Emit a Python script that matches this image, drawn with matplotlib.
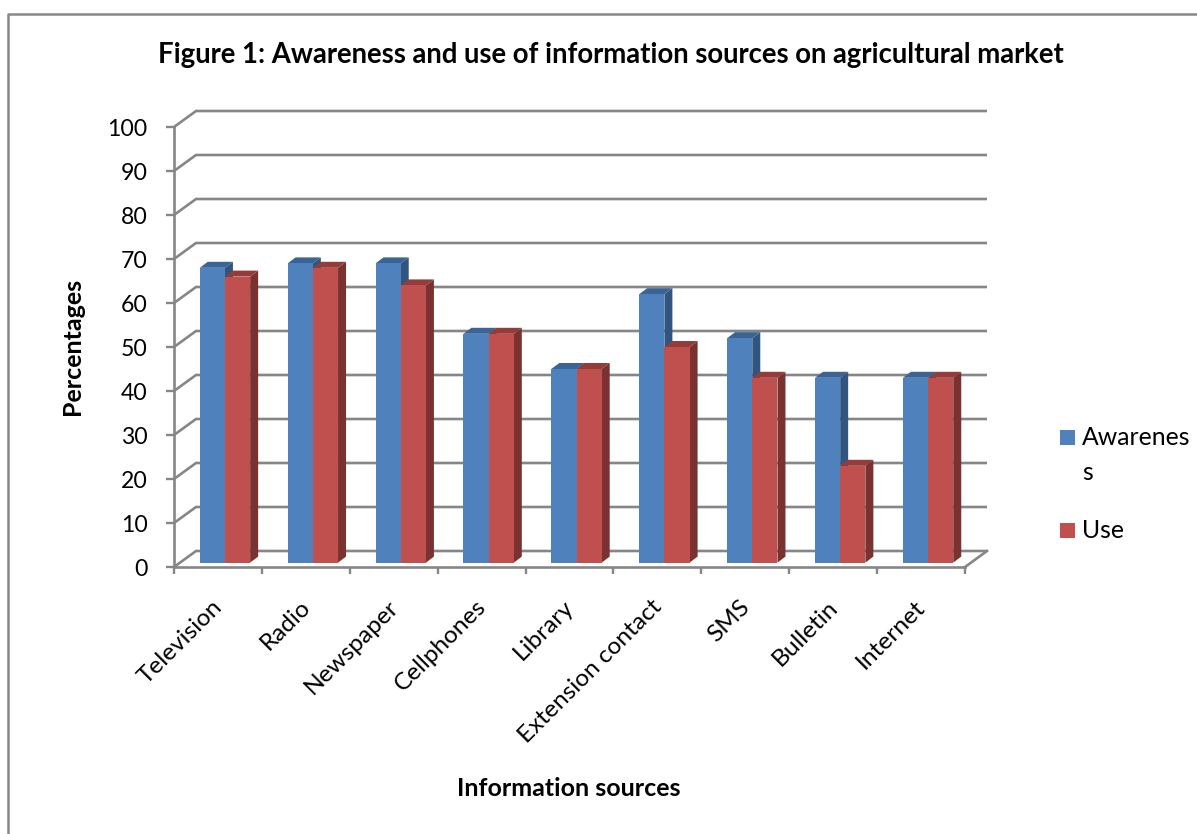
import matplotlib
matplotlib.use("Agg")
import matplotlib.pyplot as plt
from matplotlib.lines import Line2D
from matplotlib.patches import Rectangle

plt.rcParams['font.family'] = ['Lato', 'DejaVu Sans']

categories = ["Television", "Radio", "Newspaper", "Cellphones", "Library",
              "Extension contact", "SMS", "Bulletin", "Internet"]
awareness = [67, 68, 68, 52, 44, 61, 51, 42, 42]
use = [65, 67, 63, 52, 44, 49, 42, 22, 42]
y_ticks = list(range(0, 101, 10))

W, H = 1197, 834
L, R, T, B = 174, 965, 127, 567
GRAY = '#868686'
fig = plt.figure(figsize=(W / 100, H / 100), dpi=100, facecolor='white')
ax = fig.add_axes([L / W, 1 - B / H, (R - L) / W, (B - T) / H])
ax.set_xlim(0, len(categories))
ax.set_ylim(0, 100)
ax.patch.set_alpha(0)

px = len(categories) / (R - L)
py = 100 / (B - T)

# back wall + floor
wx, wy = 22 * px, 16 * py
for v in y_ticks:
    ax.plot([0, wx, len(categories) + wx], [v, v + wy, v + wy], color=GRAY, lw=1.9,
            clip_on=False, zorder=1, solid_capstyle='butt', solid_joinstyle='miter')
ax.plot([len(categories), len(categories) + wx], [0, wy], color=GRAY, lw=1.9,
        clip_on=False, zorder=1)

# 3-D bars
bw = 25.2 * px
ox, oy = 7 * px, 4.4 * py
dx, dy = 8 * px, 6 * py


def bar3d(x0, v, front, top, side, z):
    y0 = oy
    y1 = oy + v
    x1 = x0 + bw
    ax.fill([x1, x1 + dx, x1 + dx, x1], [y0, y0 + dy, y1 + dy, y1], color=side, lw=0, zorder=z, clip_on=False)
    ax.fill([x0, x0 + dx, x1 + dx, x1], [y1, y1 + dy, y1 + dy, y1], color=top, lw=0, zorder=z, clip_on=False)
    ax.bar(x0, v, width=bw, bottom=y0, align='edge', color=front, lw=0, zorder=z + 0.1, clip_on=False)


for i, (a, u) in enumerate(zip(awareness, use)):
    c = i + 0.5 + ox
    bar3d(c - bw, a, '#4F81BD', '#3A6496', '#32557F', 3 + i)
    bar3d(c, u, '#C0504D', '#943C3A', '#7A3230', 3.2 + i)

# axes, ticks
for s in ('top', 'right'):
    ax.spines[s].set_visible(False)
for s in ('left', 'bottom'):
    ax.spines[s].set_color(GRAY)
    ax.spines[s].set_linewidth(1.9)
    ax.spines[s].set_zorder(20)
ax.set_yticks(y_ticks)
ax.set_xticks(range(len(categories) + 1))
ax.set_xticklabels([])
# label anchors sit a little left of each category centre
ax.set_xticks([i + 0.5 - 6.5 * px for i in range(len(categories))], minor=True)
ax.set_xticklabels(categories, minor=True, rotation=45, ha='right', va='top',
                   rotation_mode='anchor', fontsize=17.6, color='black')
ax.tick_params(axis='x', which='minor', length=0, pad=21)
ax.tick_params(axis='x', which='major', length=5, width=1.7, color=GRAY)
ax.tick_params(axis='y', length=6, width=1.7, color=GRAY, labelsize=16.6, pad=13)

# labels
def txt(x, y, s, **k):
    fig.text(x / W, 1 - y / H, s, ha=k.pop('ha', 'center'), va='center', **k)


txt(611, 55, "Figure 1: Awareness and use of information sources on agricultural market",
    fontsize=19.8, fontweight='bold')
txt(72, 346, "Percentages", fontsize=18, fontweight='bold', rotation=90)
txt(569, 789, "Information sources", fontsize=18, fontweight='bold')

# legend
for y, c in ((430, '#4F81BD'), (523, '#C0504D')):
    fig.add_artist(Rectangle((1060 / W, 1 - (y + 15) / H), 15 / W, 15 / H,
                             transform=fig.transFigure, color=c, lw=0))
txt(1082, 438, "Awarenes", ha='left', fontsize=17.8)
txt(1082, 472, "s", ha='left', fontsize=17.8)
txt(1082, 531, "Use", ha='left', fontsize=17.8)

# outer frame
fig.add_artist(Line2D([8 / W, 8 / W, 1], [0, 1 - 14 / H, 1 - 14 / H],
                      transform=fig.transFigure, color='#888888', lw=1.8))

fig.savefig('out.png', dpi=100)
